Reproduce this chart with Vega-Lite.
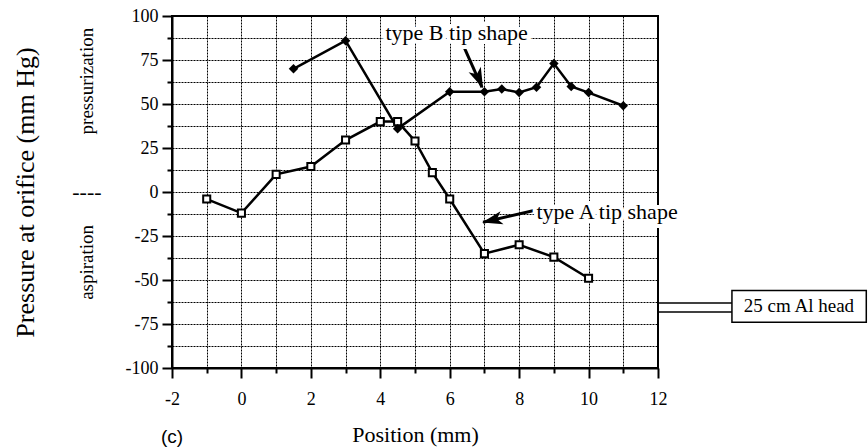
{
  "$schema": "https://vega.github.io/schema/vega-lite/v6.json",
  "width": 486,
  "height": 352,
  "autosize": "none",
  "padding": {"left": 172, "top": 16, "right": 210, "bottom": 79},
  "background": "white",
  "config": {
    "font": "Liberation Serif",
    "view": {"stroke": "black", "strokeWidth": 2},
    "axis": {
      "domainColor": "black",
      "domainWidth": 2,
      "tickColor": "black",
      "tickWidth": 2,
      "gridColor": "black",
      "gridDash": [2, 1],
      "gridWidth": 1,
      "gridOpacity": 1,
      "labelColor": "black",
      "labelFont": "Liberation Serif",
      "labelFontSize": 18,
      "titleColor": "black",
      "titleFont": "Liberation Serif",
      "titleFontWeight": "normal"
    }
  },
  "datasets": {
    "series": [
      {"series": "A", "x": -1, "y": -4},
      {"series": "A", "x": 0, "y": -12},
      {"series": "A", "x": 1, "y": 10},
      {"series": "A", "x": 2, "y": 14.5},
      {"series": "A", "x": 3, "y": 29.5},
      {"series": "A", "x": 4, "y": 40},
      {"series": "A", "x": 4.5, "y": 40},
      {"series": "A", "x": 5, "y": 29},
      {"series": "A", "x": 5.5, "y": 11},
      {"series": "A", "x": 6, "y": -4},
      {"series": "A", "x": 7, "y": -35},
      {"series": "A", "x": 8, "y": -30},
      {"series": "A", "x": 9, "y": -37},
      {"series": "A", "x": 10, "y": -49},
      {"series": "B", "x": 1.5, "y": 70},
      {"series": "B", "x": 3, "y": 86},
      {"series": "B", "x": 4.5, "y": 36},
      {"series": "B", "x": 6, "y": 57},
      {"series": "B", "x": 7, "y": 57},
      {"series": "B", "x": 7.5, "y": 58.5},
      {"series": "B", "x": 8, "y": 56.5},
      {"series": "B", "x": 8.5, "y": 59.5},
      {"series": "B", "x": 9, "y": 73},
      {"series": "B", "x": 9.5, "y": 60},
      {"series": "B", "x": 10, "y": 56.5},
      {"series": "B", "x": 11, "y": 49}
    ],
    "arrows": [
      {"note": "B", "x": 6.39, "y": 83.3, "x2": 6.93, "y2": 59.5},
      {"note": "A", "x": 8.46, "y": -10.4, "x2": 6.96, "y2": -17.2}
    ],
    "heads": [
      {"note": "B", "x": 6.84, "y": 64.3},
      {"note": "A", "x": 7.22, "y": -16.0}
    ],
    "notes": [
      {"note": "B", "x": 6.2, "y": 90.5, "text": "type B tip shape"},
      {"note": "A", "x": 8.5, "y": -11.5, "text": "type A tip shape"}
    ],
    "side": [
      {"x": -4.45, "y": 63, "text": "pressurization"},
      {"x": -4.45, "y": -40, "text": "aspiration"}
    ],
    "connector": [
      {"x": 12, "x2": 14.13, "y": -63.1},
      {"x": 12, "x2": 14.13, "y": -68.2}
    ],
    "box": [
      {"x": 14.13, "x2": 18.0, "y": -55.9, "y2": -74.0, "text": "25 cm Al head", "xc": 16.06, "yc": -65}
    ]
  },
  "encoding": {
    "x": {
      "field": "x",
      "type": "quantitative",
      "scale": {"domain": [-2, 12], "nice": false, "zero": false},
      "axis": {
        "values": [-2, -1, 0, 1, 2, 3, 4, 5, 6, 7, 8, 9, 10, 11, 12],
        "labelExpr": "datum.value % 2 === 0 ? '' + datum.value : ''",
        "tickSize": {"condition": {"test": "datum.value % 2 === 0", "value": 10}, "value": 5},
        "labelPadding": 12,
        "labelFlush": false,
        "title": "Position  (mm)",
        "titleFontSize": 22,
        "titlePadding": 16
      }
    },
    "y": {
      "field": "y",
      "type": "quantitative",
      "scale": {"domain": [-100, 100], "nice": false, "zero": false},
      "axis": {
        "values": [-100, -87.5, -75, -62.5, -50, -37.5, -25, -12.5, 0, 12.5, 25, 37.5, 50, 62.5, 75, 87.5, 100],
        "labelExpr": "datum.value % 25 === 0 ? '' + datum.value : ''",
        "tickSize": {"condition": {"test": "datum.value % 25 === 0", "value": 10}, "value": 5},
        "labelPadding": 4,
        "labelFlush": false,
        "title": "Pressure at orifice  (mm Hg)",
        "titleFontSize": 26,
        "titlePadding": 87
      }
    }
  },
  "layer": [
    {
      "data": {"values": [{}]},
      "mark": {"type": "rule", "color": "black", "strokeWidth": 3},
      "encoding": {"y": {"datum": 0, "type": "quantitative"}, "x": {"datum": -2, "type": "quantitative"}, "x2": {"datum": 12}}
    },
    {
      "data": {"values": [{}]},
      "mark": {"type": "rule", "color": "black", "strokeWidth": 2},
      "encoding": {"x": {"datum": 1, "type": "quantitative"}, "y": {"datum": -100, "type": "quantitative"}, "y2": {"datum": 100}}
    },
    {
      "data": {"name": "series"},
      "mark": {"type": "line", "color": "black", "strokeWidth": 2.5},
      "encoding": {"detail": {"field": "series"}}
    },
    {
      "data": {"name": "series"},
      "transform": [{"filter": "datum.series === 'A'"}],
      "mark": {"type": "point", "shape": "square", "filled": true, "fill": "white", "stroke": "black", "strokeWidth": 2, "size": 50, "opacity": 1}
    },
    {
      "data": {"name": "series"},
      "transform": [{"filter": "datum.series === 'B'"}],
      "mark": {"type": "point", "shape": "diamond", "filled": true, "color": "black", "size": 90, "opacity": 1}
    },
    {
      "data": {"name": "arrows"},
      "mark": {"type": "rule", "color": "black", "strokeWidth": 3},
      "encoding": {"x2": {"field": "x2"}, "y2": {"field": "y2"}}
    },
    {
      "data": {"name": "heads"},
      "transform": [{"filter": "datum.note === 'B'"}],
      "mark": {"type": "point", "shape": "M0,-1L0.65,1L0,0.5L-0.65,1Z", "filled": true, "color": "black", "size": 420, "opacity": 1, "angle": 156}
    },
    {
      "data": {"name": "heads"},
      "transform": [{"filter": "datum.note === 'A'"}],
      "mark": {"type": "point", "shape": "M0,-1L0.65,1L0,0.5L-0.65,1Z", "filled": true, "color": "black", "size": 420, "opacity": 1, "angle": 257}
    },
    {
      "data": {"name": "notes"},
      "transform": [{"filter": "datum.note === 'B'"}],
      "mark": {"type": "text", "font": "Liberation Serif", "fontSize": 22, "align": "center", "baseline": "middle", "stroke": "white", "strokeWidth": 8, "fill": "white"},
      "encoding": {"text": {"field": "text"}}
    },
    {
      "data": {"name": "notes"},
      "transform": [{"filter": "datum.note === 'B'"}],
      "mark": {"type": "text", "font": "Liberation Serif", "fontSize": 22, "align": "center", "baseline": "middle", "color": "black"},
      "encoding": {"text": {"field": "text"}}
    },
    {
      "data": {"name": "notes"},
      "transform": [{"filter": "datum.note === 'A'"}],
      "mark": {"type": "text", "font": "Liberation Serif", "fontSize": 22, "align": "left", "baseline": "middle", "stroke": "white", "strokeWidth": 8, "fill": "white"},
      "encoding": {"text": {"field": "text"}}
    },
    {
      "data": {"name": "notes"},
      "transform": [{"filter": "datum.note === 'A'"}],
      "mark": {"type": "text", "font": "Liberation Serif", "fontSize": 22, "align": "left", "baseline": "middle", "color": "black"},
      "encoding": {"text": {"field": "text"}}
    },
    {
      "data": {"name": "side"},
      "mark": {"type": "text", "font": "Liberation Serif", "fontSize": 19, "angle": 270, "align": "center", "baseline": "middle", "color": "black"},
      "encoding": {"text": {"field": "text"}}
    },
    {
      "data": {"values": [{"x": -4.45, "y": 0, "text": "----"}]},
      "mark": {"type": "text", "font": "Liberation Serif", "fontSize": 22, "align": "center", "baseline": "middle", "color": "black"},
      "encoding": {"text": {"field": "text"}}
    },
    {
      "data": {"values": [{"x": -2, "y": -139, "text": "(c)"}]},
      "mark": {"type": "text", "font": "Liberation Sans", "fontSize": 19, "align": "center", "baseline": "middle", "color": "black"},
      "encoding": {"text": {"field": "text"}}
    },
    {
      "data": {"name": "connector"},
      "mark": {"type": "rule", "color": "black", "strokeWidth": 1.5},
      "encoding": {"x2": {"field": "x2"}}
    },
    {
      "data": {"name": "box"},
      "mark": {"type": "rect", "fill": "white", "stroke": "black", "strokeWidth": 1.5},
      "encoding": {"x2": {"field": "x2"}, "y2": {"field": "y2"}}
    },
    {
      "data": {"name": "box"},
      "mark": {"type": "text", "font": "Liberation Serif", "fontSize": 19, "align": "center", "baseline": "middle", "color": "black"},
      "encoding": {"x": {"field": "xc", "type": "quantitative"}, "y": {"field": "yc", "type": "quantitative"}, "text": {"field": "text"}}
    }
  ]
}
